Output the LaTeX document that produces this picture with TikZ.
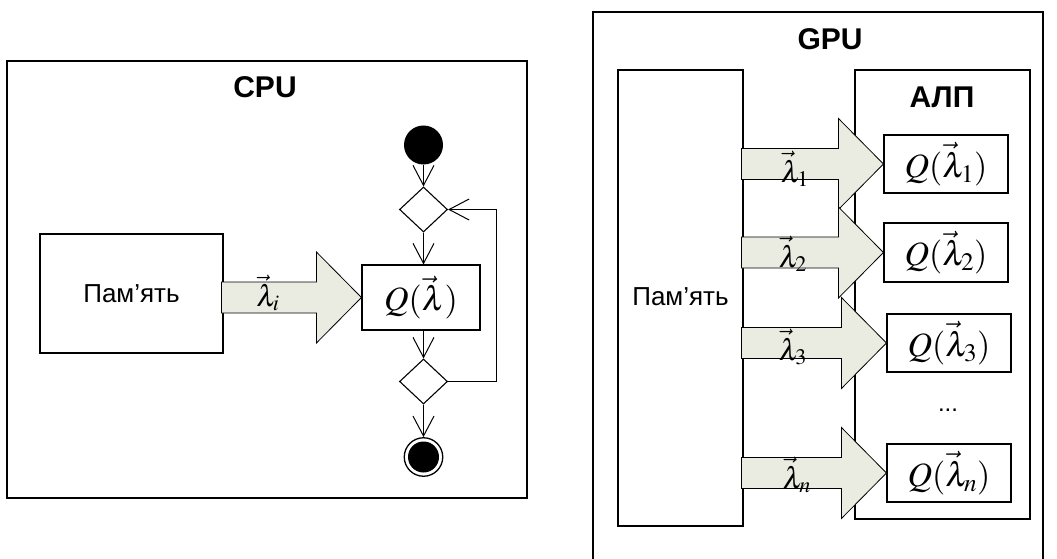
\documentclass[tikz,border=0pt]{standalone}
\usepackage{mathptmx}
\usepackage[no-math]{fontspec}
\setmainfont{Liberation Sans}
\usetikzlibrary{arrows.meta,shapes.geometric,calc}

\definecolor{arrowfill}{RGB}{234,236,225}

\tikzset{
  frame/.style={draw, line width=1.2pt},
  box/.style={draw, line width=1.1pt, fill=white, inner sep=0pt},
  title/.style={font=\fontsize{30}{34}\selectfont\bfseries, inner sep=0pt},
  memtext/.style={font=\fontsize{26}{30}\selectfont},
  qtext/.style={font=\fontsize{34}{38}\selectfont},
  lbl/.style={font=\fontsize{30}{33}\selectfont, inner sep=0pt, anchor=base},
  decision/.style={draw, shape=diamond, line width=1.1pt, fill=white,
    minimum width=48pt, minimum height=45pt, inner sep=0pt},
  flow/.style={line width=1pt, -{Straight Barb[length=20pt,width=21pt]}},
  blockarrow/.style={draw=black, line width=0.8pt, fill=arrowfill},
}

% wide arrow from the right side of #1 to the left side of #2
\newcommand\blockarrow[2]{%
  \path[blockarrow] let \p1=(#1.east), \p2=(#2.west) in
    (\x1-2pt,\y2+15.5pt) -- (\x2-45pt,\y2+15.5pt) -- (\x2-45pt,\y2+45.5pt) -- (\p2)
    -- (\x2-45pt,\y2-45.5pt) -- (\x2-45pt,\y2-15.5pt) -- (\x1-2pt,\y2-15.5pt) -- cycle;}

\begin{document}
\begin{tikzpicture}[x=1pt,y=-1pt]
\useasboundingbox (0,0) rectangle (1057,559);

% ---------------- CPU ----------------
\draw[frame] (7,61) rectangle (527,498);
\node[title] (cpu) at (265,87) {CPU};

\node[box, minimum width=183pt, minimum height=119pt] (cmem) at (131.5,293.5) {};
\node[memtext] (cmemt) at (131.5,294) {Пам’ять};

\node[box, minimum width=118pt, minimum height=65pt] (cq) at (421,297.5) {};
\node[qtext] (cqt) at (421,297.5) {$Q(\vec{\lambda})$};

\blockarrow{cmem}{cq}
\node[lbl] (lami) at (268,306) {$\vec{\lambda}_i$};

\fill (423.5,145) circle[radius=19.5pt] coordinate (start);
\node[circle, minimum size=39pt, inner sep=0pt] (startn) at (423.5,145) {};
\node[decision] (d1) at (423.5,209.5) {};
\node[decision] (d2) at (423.5,381.5) {};
\node[circle, draw, line width=1.3pt, minimum size=38.5pt, inner sep=0pt] (endn) at (423.5,457) {};
\fill (endn.center) circle[radius=15.5pt];

\draw[flow] (startn) -- (d1);
\draw[flow] (d1) -- (d1 |- cq.north);
\draw[flow] (d1 |- cq.south) -- (d2);
\draw[flow] (d2) -- (endn);
\coordinate (loopb) at (496,381.5);
\coordinate (loopt) at (496,209.5);
\draw[flow] (d2.east) -- (loopb) -- (loopt) -- (d1.east);

% ---------------- GPU ----------------
\draw[frame] (593,12) rectangle (1043,563);
\node[title] (gpu) at (830,39) {GPU};

\node[box, minimum width=125pt, minimum height=456pt] (gmem) at (680.5,298) {};
\node[memtext] (gmemt) at (680.5,297) {Пам’ять};

\node[box, minimum width=175pt, minimum height=449pt] (alu) at (942.5,294.5) {};
\node[title] (alut) at (942,97) {АЛП};

\node[box, minimum width=124pt, minimum height=58pt] (q1) at (946,164) {};
\node[box, minimum width=124pt, minimum height=59pt] (q2) at (946,252.5) {};
\node[box, minimum width=124pt, minimum height=58pt] (q3) at (949,343) {};
\node[box, minimum width=124pt, minimum height=58pt] (qn) at (949,473) {};
\node[qtext] (q1t) at (q1) {$Q(\vec{\lambda}_1)$};
\node[qtext] (q2t) at (q2) {$Q(\vec{\lambda}_2)$};
\node[qtext] (q3t) at (q3) {$Q(\vec{\lambda}_3)$};
\node[qtext] (qnt) at (qn) {$Q(\vec{\lambda}_n)$};
\node[font=\fontsize{24}{28}\selectfont] (dots) at (948,410) {...};

\blockarrow{gmem}{q1}
\blockarrow{gmem}{q2}
\blockarrow{gmem}{q3}
\blockarrow{gmem}{qn}
\node[lbl] (lam1) at (795,182) {$\vec{\lambda}_1$};
\node[lbl] (lam2) at (793,267) {$\vec{\lambda}_2$};
\node[lbl] (lam3) at (793,360) {$\vec{\lambda}_3$};
\node[lbl] (lamn) at (797,488) {$\vec{\lambda}_n$};
\end{tikzpicture}
\end{document}
